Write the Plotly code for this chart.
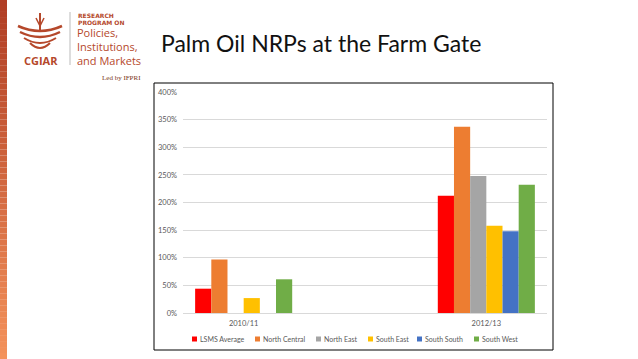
import plotly.graph_objects as go

# ---- data ----
periods = ["2010/11", "2011/12", "2012/13"]
tick_labels = ["2010/11", "2012/13"]
series_names = ["LSMS Average", "North Central", "North East", "South East", "South South", "South West"]
lsms_average = [44, None, 212]
north_central = [97, None, 337]
north_east = [None, None, 248]
south_east = [27, None, 158]
south_south = [None, None, 148]
south_west = [61, None, 232]
series_values = [lsms_average, north_central, north_east, south_east, south_south, south_west]
colors = ["#FF0000", "#ED7D31", "#A5A5A5", "#FFC000", "#4472C4", "#70AD47"]
y_ticks = [0, 50, 100, 150, 200, 250, 300, 350, 400]

W, H = 638, 359

def px(x):
    return x / W

def py(y):
    return 1 - y / H

fig = go.Figure()
for name, vals, c in zip(series_names, series_values, colors):
    fig.add_trace(go.Bar(x=periods, y=vals, name=name, showlegend=False,
                         marker=dict(color=c, line=dict(width=0))))

shapes = []
annotations = []

# legend (key squares + series names) below the plot
legend_left = [192, 255, 316, 368, 417, 474]
for name, c, left in zip(series_names, colors, legend_left):
    shapes.append(dict(type="rect", xref="paper", yref="paper", x0=px(left), x1=px(left + 5),
                       y0=py(341.5), y1=py(336.5), fillcolor=c, line=dict(width=0)))
    annotations.append(dict(text=name, x=px(left + 6), y=py(339), xanchor="left", yanchor="middle",
                            font=dict(family="Lato, sans-serif", size=7, color="#595959")))

# left gradient stripe
n = 60
c0 = (0xB0, 0x3E, 0x25)
c1 = (0xF4, 0x92, 0x5B)
for i in range(n):
    t = i / (n - 1)
    col = "rgb(%d,%d,%d)" % tuple(int(c0[k] + (c1[k] - c0[k]) * t) for k in range(3))
    shapes.append(dict(type="rect", xref="paper", yref="paper", x0=0, x1=px(7),
                       y0=py(H * (i + 1) / n), y1=py(H * i / n),
                       fillcolor=col, line=dict(width=0), layer="above"))
# chart border
shapes.append(dict(type="rect", xref="paper", yref="paper", x0=px(154), x1=px(553),
                   y0=py(350), y1=py(83), line=dict(color="black", width=1)))
# logo separator
shapes.append(dict(type="line", xref="paper", yref="paper", x0=px(70), x1=px(70),
                   y0=py(65), y1=py(12), line=dict(color="#BBBBBB", width=1)))

logo_col = "#B5482B"
annotations += [
    dict(text="Palm Oil NRPs at the Farm Gate", x=px(159), y=py(43), xanchor="left", yanchor="middle",
         font=dict(family="Lato, Open Sans, sans-serif", size=23, color="#111111")),
    dict(text="<b>RESEARCH</b>", x=px(76), y=py(15), xanchor="left", yanchor="middle",
         font=dict(family="DejaVu Sans", size=6, color=logo_col)),
    dict(text="<b>PROGRAM ON</b>", x=px(76), y=py(22.5), xanchor="left", yanchor="middle",
         font=dict(family="DejaVu Sans", size=6, color=logo_col)),
    dict(text="Policies,", x=px(75), y=py(33), xanchor="left", yanchor="middle",
         font=dict(family="Open Sans", size=11, color=logo_col)),
    dict(text="Institutions,", x=px(75), y=py(46.5), xanchor="left", yanchor="middle",
         font=dict(family="Open Sans", size=11, color=logo_col)),
    dict(text="and Markets", x=px(75), y=py(60), xanchor="left", yanchor="middle",
         font=dict(family="Open Sans", size=11, color=logo_col)),
    dict(text="<b>CGIAR</b>", x=px(40.5), y=py(60), xanchor="center", yanchor="middle",
         font=dict(family="Open Sans", size=11, color=logo_col)),
    dict(text="Led by IFPRI", x=px(143), y=py(78), xanchor="right", yanchor="middle",
         font=dict(family="Liberation Serif", size=7, color="#7A3520")),
]
for a in annotations:
    a.update(xref="paper", yref="paper", showarrow=False)

# simple logo icon (wheat/figure) approximation
icon = [
    dict(x0=40, y0=13, x1=40, y1=32, w=2),
    dict(x0=36, y0=18, x1=40, y1=26, w=1.5),
    dict(x0=44, y0=18, x1=40, y1=26, w=1.5),
]
for s in icon:
    shapes.append(dict(type="line", xref="paper", yref="paper", x0=px(s["x0"]), y0=py(s["y0"]),
                       x1=px(s["x1"]), y1=py(s["y1"]), line=dict(color=logo_col, width=s["w"])))
for k, (yy, ww) in enumerate([(30, 22), (36, 20), (42, 16), (47, 10)]):
    shapes.append(dict(type="path", xref="paper", yref="paper",
                       path="M %f %f Q %f %f %f %f" % (px(40 - ww), py(yy - 4), px(40), py(yy + 6), px(40 + ww), py(yy - 4)),
                       line=dict(color=logo_col, width=2.5 if k < 2 else 2)))

fig.update_layout(
    width=W, height=H, margin=dict(l=0, r=0, t=0, b=0, autoexpand=False),
    paper_bgcolor="white", plot_bgcolor="white",
    barmode="group", bargap=0.2, bargroupgap=0,
    shapes=shapes, annotations=annotations,
    showlegend=False,
    xaxis=dict(domain=[px(183), px(547)], type="category", categoryorder="array",
               categoryarray=periods, tickvals=tick_labels, ticktext=tick_labels,
               showgrid=False, showline=True, linecolor="#D9D9D9", ticks="",
               tickfont=dict(family="Lato, sans-serif", size=7.5, color="#595959"),
               ticklabelstandoff=3,
               anchor="y", zeroline=False, automargin=False),
    yaxis=dict(domain=[py(313), py(92)], range=[0, 400], tickvals=y_ticks,
               ticktext=["%d%%" % v for v in y_ticks], showgrid=True, gridcolor="#D9D9D9",
               gridwidth=1, zeroline=False, showline=False, ticks="",
               tickfont=dict(family="Lato, sans-serif", size=7.5, color="#595959"),
               ticklabelstandoff=5, automargin=False),
)

fig.write_html("out.html", config={"displayModeBar": False},
               post_script="document.body.style.margin='0';")
